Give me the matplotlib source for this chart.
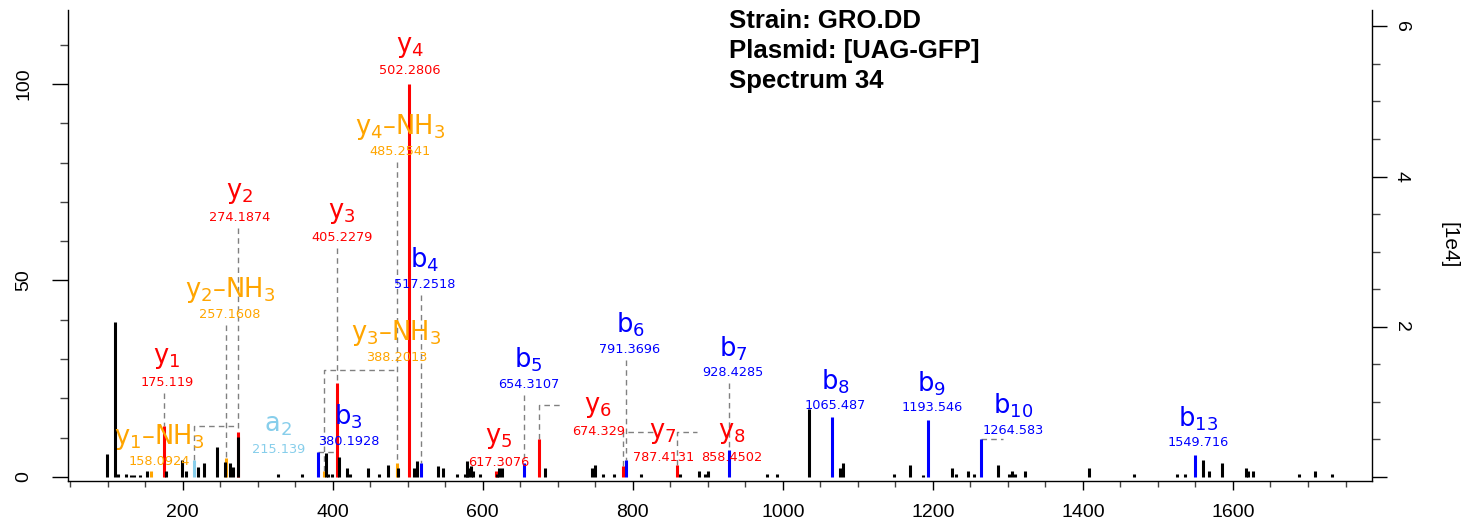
import matplotlib
matplotlib.use('Agg')
import matplotlib.pyplot as plt
from matplotlib.ticker import MultipleLocator

plt.rcParams['mathtext.default'] = 'regular'
plt.rcParams['font.family'] = 'DejaVu Sans'

# picchi non annotati: m/z e intensita relativa (%)
noise_mz = [98.7, 109.8, 114.2, 124.4, 130.7, 135.0, 143.0, 152.8, 177.7, 198.7,
            204.4, 220.8, 228.4, 245.3, 256.4, 263.0, 267.4, 274.2, 327.4, 358.6,
            390.6, 394.1, 398.6, 408.7, 418.6, 423.0, 447.4, 462.0, 474.1, 487.4,
            508.3, 511.9, 539.9, 547.4, 565.2, 576.3, 578.6, 580.7, 583.9, 587.4,
            596.3, 618.5, 621.6, 625.2, 683.0, 745.9, 749.6, 760.7, 774.9, 810.9,
            862.9, 888.6, 896.2, 899.8, 978.4, 991.8, 1034.9, 1076.2, 1080.6, 1148.1,
            1169.5, 1187.2, 1225.9, 1230.4, 1247.2, 1254.8, 1287.2, 1301.9, 1305.0, 1309.4,
            1322.7, 1408.5, 1468.1, 1525.0, 1536.0, 1560.4, 1568.0, 1585.7, 1617.3, 1620.4,
            1627.0, 1688.4, 1709.3, 1731.6]
noise_int = [5.8, 39.5, 0.9, 0.9, 0.6, 0.6, 0.4, 1.6, 1.6, 4.3,
             1.6, 2.6, 3.6, 7.7, 3.9, 3.6, 2.6, 10.3, 0.9, 0.9,
             6.0, 0.9, 0.9, 5.2, 2.2, 0.9, 2.2, 0.9, 3.0, 2.2,
             2.2, 4.1, 2.9, 2.2, 0.9, 0.9, 4.1, 2.2, 2.9, 1.6,
             0.9, 0.9, 2.2, 2.2, 2.2, 2.2, 3.0, 0.9, 0.9, 0.9,
             0.9, 1.6, 0.9, 1.6, 0.9, 0.9, 17.2, 2.2, 3.6, 0.9,
             3.0, 0.4, 2.2, 0.9, 1.6, 0.9, 3.0, 0.9, 1.6, 0.9,
             1.6, 2.2, 0.8, 0.8, 0.8, 4.3, 1.6, 3.6, 2.2, 1.6,
             1.6, 0.8, 1.6, 0.8]

# ioni annotati
ion_text = ['y$_1$–NH$_3$', 'y$_1$', 'a$_2$', 'y$_2$–NH$_3$', 'y$_2$', 'b$_3$',
            'y$_3$–NH$_3$', 'y$_3$', 'y$_4$–NH$_3$', 'y$_4$', 'b$_4$', 'y$_5$',
            'b$_5$', 'y$_6$', 'y$_7$', 'b$_6$', 'y$_8$', 'b$_7$', 'b$_8$', 'b$_9$',
            'b$_{10}$', 'b$_{13}$']
ion_mz = [158.0924, 175.119, 215.139, 257.1608, 274.1874, 380.1928,
          388.2013, 405.2279, 485.2541, 502.2806, 517.2518, 617.3076,
          654.3107, 674.329, 787.4131, 791.3696, 858.4502, 928.4285,
          1065.487, 1193.546, 1264.583, 1549.716]
ion_int = [1.6, 13.05, 4.3, 4.75, 11.5, 6.4,
           1.6, 23.8, 3.5, 100.0, 3.5, 1.6,
           3.5, 9.6, 2.9, 4.3, 3.05, 6.9,
           15.2, 14.5, 9.7, 5.6]
ion_color = ['orange', 'red', 'skyblue', 'orange', 'red', 'blue',
             'orange', 'red', 'orange', 'red', 'blue', 'red',
             'blue', 'red', 'red', 'blue', 'red', 'blue',
             'blue', 'blue', 'blue', 'blue']
label_x = [168.4, 179.0, 327.4, 263.0, 276.0, 420.7,
           485.3, 411.9, 489.7, 502.3, 523.0, 620.7,
           660.7, 754.0, 840.4, 796.2, 931.8, 934.0,
           1069.5, 1198.4, 1307.2, 1553.8]
label_y = [10.2, 30.3, 13.2, 47.6, 72.3, 15.3,
           36.6, 67.1, 89.1, 109.5, 55.2, 9.9,
           29.8, 17.9, 11.1, 38.7, 11.2, 32.7,
           24.3, 23.8, 18.1, 14.9]
elbow_y = [None, None, 13.05, None, None, 6.4,
           27.2, None, None, None, None, None,
           None, 18.3, 11.5, None, 11.5, None,
           None, None, 9.8, None]
elbow_x = [None, None, 273.7, None, None, 407.0,
           485.3, None, None, None, None, None,
           None, 705.2, 829.0, None, 885.2, None,
           None, None, 1293.4, None]

fig = plt.figure(figsize=(14.64, 5.24), dpi=100)
ax = fig.add_axes([0.04645, 0.0821, 0.8907, 0.8988])

ax.vlines(ion_mz, 0, ion_int, colors=ion_color, linewidth=2.2, zorder=2)
ax.vlines(noise_mz, 0, noise_int, colors='black', linewidth=2.2, zorder=3)

dash = dict(color='#808080', linewidth=1.0, linestyle=(0, (4, 3)), zorder=1)
for i in range(len(ion_mz)):
    c = ion_color[i]
    ax.text(label_x[i], label_y[i], ion_text[i], color=c, fontsize=18.5,
            ha='center', va='center')
    ax.text(label_x[i], label_y[i] - 6.2, f"{ion_mz[i]:.7g}", color=c,
            fontsize=9.3, ha='center', va='center')
    if elbow_y[i] is not None:
        ax.plot([ion_mz[i], ion_mz[i], elbow_x[i]],
                [ion_int[i], elbow_y[i], elbow_y[i]], **dash)
    else:
        top = label_y[i] - 8.9
        if top - ion_int[i] > 1.0:
            ax.plot([ion_mz[i], ion_mz[i]], [top, ion_int[i]], **dash)

ax.set_xlim(47.1, 1785.3)
ax.set_ylim(-1.0, 118.8)

ax.spines['top'].set_visible(False)
ax.spines['right'].set_visible(False)
for s in ['left', 'bottom']:
    ax.spines[s].set_linewidth(1.0)

ax.xaxis.set_minor_locator(MultipleLocator(50))
ax.yaxis.set_minor_locator(MultipleLocator(10))
ax.set_xticks(range(200, 1601, 200))
ax.set_yticks([0, 50, 100])

tickfont = {'family': 'Liberation Sans', 'size': 14}
ax.tick_params(axis='x', which='major', length=6.5, width=1.0, pad=10)
ax.tick_params(axis='x', which='minor', length=4.3, width=1.0, color='#444444')
ax.tick_params(axis='y', which='major', length=11.5, width=1.0, pad=14)
ax.tick_params(axis='y', which='minor', length=5.8, width=1.0, color='#444444')
for lab in ax.get_xticklabels():
    lab.set_fontproperties(tickfont)
for lab in ax.get_yticklabels():
    lab.set_fontproperties(tickfont)
    lab.set_rotation(90)
    lab.set_va('center')

k = 0.05233
sec = ax.secondary_yaxis('right', functions=(lambda y: y * k, lambda y: y / k))
sec.set_yticks([0, 2, 4, 6], labels=['', '2', '4', '6'])
sec.yaxis.set_minor_locator(MultipleLocator(0.5))
sec.tick_params(axis='y', which='major', length=11, width=1.0, pad=4)
sec.tick_params(axis='y', which='minor', length=6, width=1.0, color='#444444')
sec.spines['right'].set_linewidth(1.0)
for lab in sec.get_yticklabels():
    lab.set_fontproperties(tickfont)
    lab.set_rotation(-90)
    lab.set_va('center')
sec.set_ylabel('[1e4]', fontsize=15, family='Liberation Sans', rotation=-90,
               labelpad=28, va='center')

info = ['Strain: GRO.DD', 'Plasmid: [UAG-GFP]', 'Spectrum 34']
for j, riga in enumerate(info):
    fig.text(729 / 1464, 1 - (28 + 30 * j) / 524, riga, fontsize=18.5,
             fontweight='bold', family='Liberation Sans', va='baseline')

fig.savefig('out.png', dpi=100)
